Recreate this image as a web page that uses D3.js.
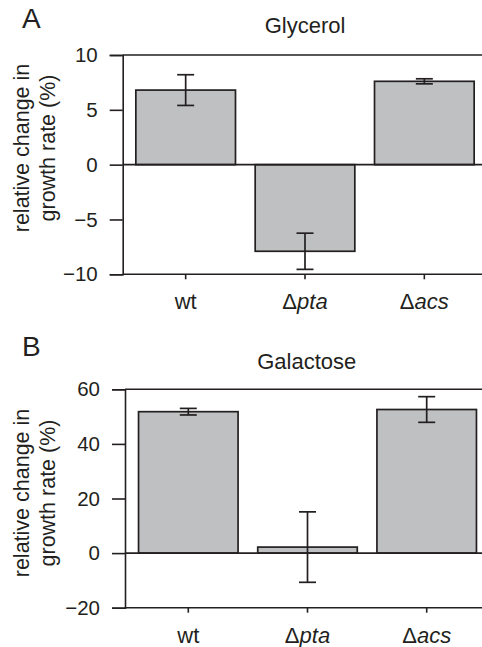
<!DOCTYPE html>
<html>
<head>
<meta charset="utf-8">
<script src="https://cdn.jsdelivr.net/npm/d3@7"></script>
<style>
  body { margin: 0; background: #fff; }
  text { font-family: "Liberation Sans", Arial, sans-serif; fill: #231f20; }
</style>
</head>
<body>
<div id="chart"></div>
<script>
const strains = ["wt", "pta", "acs"];

const glycerolMean = [6.8, -7.9, 7.6];
const glycerolErr = [1.4, 1.65, 0.23];
const glycerolTicks = [-10, -5, 0, 5, 10];

const galactoseMean = [51.8, 2.2, 52.6];
const galactoseErr = [1.2, 12.9, 4.7];
const galactoseTicks = [-20, 0, 20, 40, 60];

const w = 482;
const h = 647;
const ink = "#231f20";

const svg = d3.select("#chart")
              .append("svg")
              .attr("width", w)
              .attr("height", h);

function panel(opts) {
  const g = svg.append("g");
  const rows = strains.map((s, i) => ({ name: s, mean: opts.mean[i], err: opts.err[i] }));

  const y = d3.scaleLinear()
              .domain(d3.extent(opts.ticks))
              .range([opts.bottom, opts.top]);

  const x = d3.scaleBand()
              .domain(strains)
              .range([opts.x0, opts.x1])
              .paddingInner(0.165)
              .paddingOuter(0.0825);

  // bars
  g.selectAll("rect")
   .data(rows)
   .enter()
   .append("rect")
   .attr("x", d => x(d.name))
   .attr("y", d => y(Math.max(0, d.mean)))
   .attr("width", x.bandwidth())
   .attr("height", d => Math.abs(y(d.mean) - y(0)))
   .attr("fill", "#bfc0c2")
   .attr("stroke", ink)
   .attr("stroke-width", 1.7);

  // y axis
  const yAxis = g.append("g")
                 .attr("transform", `translate(${opts.axisX},0)`)
                 .call(d3.axisLeft(y).tickValues(opts.ticks).tickSize(13).tickPadding(12)
                         .tickFormat(d => d < 0 ? "\u2212" + Math.abs(d) : d));
  yAxis.select(".domain").attr("stroke", ink).attr("stroke-width", 1.6);
  yAxis.selectAll(".tick line").attr("stroke", ink).attr("stroke-width", 1.6);
  yAxis.selectAll(".tick text").attr("font-size", 20.5).attr("fill", ink)
       .attr("font-family", "Liberation Sans, Arial, sans-serif");

  // horizontal frame lines at top, zero and bottom
  g.selectAll("line.hline")
   .data([d3.max(opts.ticks), 0, d3.min(opts.ticks)])
   .enter()
   .append("line")
   .attr("class", "hline")
   .attr("x1", opts.axisX)
   .attr("x2", w)
   .attr("y1", d => y(d))
   .attr("y2", d => y(d))
   .attr("stroke", ink)
   .attr("stroke-width", 1.6);

  // x ticks
  const xAxis = g.append("g")
                 .attr("transform", `translate(0,${opts.bottom})`)
                 .call(d3.axisBottom(x).tickSize(5).tickFormat(""));
  xAxis.select(".domain").remove();
  xAxis.selectAll(".tick line").attr("stroke", ink).attr("stroke-width", 1.6);

  const lab = g.selectAll("text.xlab")
               .data(rows)
               .enter()
               .append("text")
               .attr("class", "xlab")
               .attr("x", d => x(d.name) + x.bandwidth() / 2)
               .attr("y", opts.bottom + 35)
               .attr("text-anchor", "middle")
               .attr("font-size", 22);
  lab.each(function(d) {
    const t = d3.select(this);
    if (d.name === "wt") {
      t.text("wt");
    } else {
      t.append("tspan").text("\u0394");
      t.append("tspan").attr("font-style", "italic").text(d.name);
    }
  });

  // error bars
  const eb = g.selectAll("g.err")
              .data(rows)
              .enter()
              .append("g")
              .attr("class", "err")
              .attr("stroke", ink)
              .attr("stroke-width", 1.7);
  const cx = d => x(d.name) + x.bandwidth() / 2;
  eb.append("line")
    .attr("x1", cx).attr("x2", cx)
    .attr("y1", d => y(d.mean - d.err)).attr("y2", d => y(d.mean + d.err));
  eb.append("line")
    .attr("x1", d => cx(d) - 8.5).attr("x2", d => cx(d) + 8.5)
    .attr("y1", d => y(d.mean + d.err)).attr("y2", d => y(d.mean + d.err));
  eb.append("line")
    .attr("x1", d => cx(d) - 8.5).attr("x2", d => cx(d) + 8.5)
    .attr("y1", d => y(d.mean - d.err)).attr("y2", d => y(d.mean - d.err));

  // title and panel letter
  g.append("text")
   .attr("x", opts.titleX)
   .attr("y", opts.titleY)
   .attr("text-anchor", "middle")
   .attr("font-size", 22)
   .text(opts.title);

  g.append("text")
   .attr("x", 22)
   .attr("y", opts.letterY)
   .attr("font-size", 28)
   .text(opts.letter);

  // y label
  const yl = g.append("text")
              .attr("transform", `translate(0,${opts.labelY}) rotate(-90)`)
              .attr("text-anchor", "middle")
              .attr("font-size", 21.5);
  yl.append("tspan").attr("x", 0).attr("y", 29).text("relative change in");
  yl.append("tspan").attr("x", 0).attr("y", 54.5).text("growth rate (%)");
}

panel({
  title: "Glycerol", letter: "A",
  mean: glycerolMean, err: glycerolErr, ticks: glycerolTicks,
  top: 55, bottom: 274.3, axisX: 122.7, x0: 126, x1: 484,
  titleX: 305, titleY: 33, letterY: 28.3, labelY: 148
});

panel({
  title: "Galactose", letter: "B",
  mean: galactoseMean, err: galactoseErr, ticks: galactoseTicks,
  top: 389.3, bottom: 607.7, axisX: 125, x0: 128.7, x1: 486.3,
  titleX: 306.7, titleY: 369, letterY: 356, labelY: 493
});
</script>
</body>
</html>
